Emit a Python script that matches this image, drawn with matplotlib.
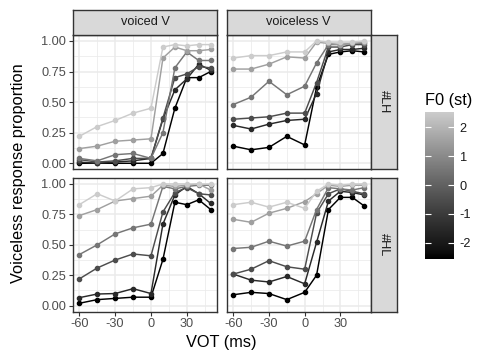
import numpy as np
import matplotlib
matplotlib.use('Agg')
import matplotlib.pyplot as plt
from matplotlib.colors import ListedColormap, Normalize

plt.rcParams['font.family'] = ['Liberation Sans', 'DejaVu Sans']

vot = [-60, -45, -30, -15, 0, 10, 20, 30, 40, 50]
f0_levels = [-2.56, -1.54, -0.52, 0.5, 1.51, 2.52]
col_labels = ['voiced V', 'voiceless V']
row_labels = ['#LH', '#HL']

# one row per F0 level (ascending F0)
voiced_lh = [
    [0.00, 0.00, 0.00, 0.00, 0.00, 0.08, 0.45, 0.70, 0.70, 0.75],
    [0.01, 0.00, 0.01, 0.02, 0.04, 0.36, 0.60, 0.69, 0.81, 0.76],
    [0.03, 0.01, 0.02, 0.04, 0.04, 0.37, 0.70, 0.73, 0.79, 0.78],
    [0.04, 0.02, 0.07, 0.08, 0.04, 0.25, 0.78, 0.91, 0.84, 0.84],
    [0.12, 0.14, 0.18, 0.19, 0.20, 0.86, 0.95, 0.92, 0.92, 0.93],
    [0.22, 0.30, 0.35, 0.41, 0.45, 0.95, 0.97, 0.96, 0.97, 0.97],
]
voiceless_lh = [
    [0.14, 0.11, 0.13, 0.22, 0.15, 0.62, 0.89, 0.91, 0.92, 0.91],
    [0.31, 0.28, 0.32, 0.35, 0.36, 0.57, 0.91, 0.93, 0.93, 0.94],
    [0.36, 0.37, 0.38, 0.41, 0.41, 0.66, 0.95, 0.95, 0.97, 0.97],
    [0.48, 0.54, 0.67, 0.56, 0.63, 0.82, 0.97, 0.97, 0.98, 0.98],
    [0.77, 0.77, 0.81, 0.87, 0.86, 0.99, 0.98, 0.97, 0.98, 0.99],
    [0.86, 0.88, 0.88, 0.91, 0.91, 1.00, 0.99, 0.99, 0.99, 1.00],
]
voiced_hl = [
    [0.02, 0.05, 0.06, 0.07, 0.07, 0.38, 0.85, 0.83, 0.87, 0.79],
    [0.066, 0.096, 0.10, 0.14, 0.10, 0.67, 0.91, 0.98, 0.92, 0.84],
    [0.22, 0.31, 0.375, 0.425, 0.41, 0.77, 0.93, 0.97, 0.92, 0.91],
    [0.42, 0.50, 0.59, 0.64, 0.67, 0.98, 0.96, 0.98, 0.99, 0.99],
    [0.74, 0.79, 0.86, 0.88, 0.90, 0.99, 0.98, 0.99, 1.00, 0.95],
    [0.83, 0.92, 0.86, 0.96, 0.97, 1.00, 1.00, 1.00, 1.00, 1.00],
]
voiceless_hl = [
    [0.09, 0.11, 0.10, 0.05, 0.11, 0.25, 0.79, 0.89, 0.89, 0.82],
    [0.26, 0.21, 0.195, 0.24, 0.18, 0.52, 0.86, 0.94, 0.93, 0.91],
    [0.26, 0.30, 0.37, 0.32, 0.30, 0.76, 0.92, 0.96, 0.94, 0.92],
    [0.47, 0.48, 0.53, 0.49, 0.53, 0.79, 0.97, 0.96, 0.95, 0.97],
    [0.71, 0.685, 0.76, 0.80, 0.855, 0.92, 0.99, 0.98, 0.99, 0.99],
    [0.83, 0.85, 0.81, 0.85, 0.80, 0.94, 1.00, 0.99, 1.00, 1.00],
]
panels = [[voiced_lh, voiceless_lh], [voiced_hl, voiceless_hl]]


def grey_lab_cmap(high=0.8, n=256):
    # black -> grey interpolated in L*, like ggplot's gradient
    def to_lin(c):
        return c / 12.92 if c <= 0.04045 else ((c + 0.055) / 1.055) ** 2.4

    def to_srgb(c):
        return 12.92 * c if c <= 0.0031308 else 1.055 * c ** (1 / 2.4) - 0.055

    d = 6 / 29
    y_hi = to_lin(high)
    f = y_hi ** (1 / 3) if y_hi > d ** 3 else y_hi / (3 * d * d) + 4 / 29
    l_hi = 116 * f - 16
    cols = []
    for t in np.linspace(0, 1, n):
        fy = (t * l_hi + 16) / 116
        y = fy ** 3 if fy > d else 3 * d * d * (fy - 4 / 29)
        g = to_srgb(y)
        cols.append((g, g, g))
    return ListedColormap(cols)


cmap = grey_lab_cmap(0.8)
norm = Normalize(vmin=-2.56, vmax=2.52)

W, H = 478, 356
fig = plt.figure(figsize=(W / 100, H / 100), dpi=100)


def fx(px):
    return px / W


def fy(py):
    return 1 - py / H


col_x = [(72.7, 217.3), (226.7, 370.7)]
row_y = [(34.8, 169.4), (177.9, 311.8)]
grid_c = '#EBEBEB'
border_c = '#333333'

for r in range(2):
    for c in range(2):
        x0, x1 = col_x[c]
        y0, y1 = row_y[r]
        ax = fig.add_axes([fx(x0), fy(y1), fx(x1 - x0), (y1 - y0) / H])
        ax.set_xlim(-65.5, 55.5)
        ax.set_ylim(-0.05, 1.05)
        ax.set_xticks([-60, -30, 0, 30])
        ax.set_xticks([-45, -15, 15, 45], minor=True)
        ax.set_yticks([0, 0.25, 0.5, 0.75, 1.0])
        ax.set_yticks([0.125, 0.375, 0.625, 0.875], minor=True)
        ax.grid(which='major', color=grid_c, lw=1.1)
        ax.grid(which='minor', color=grid_c, lw=0.55)
        ax.set_axisbelow(True)
        for s in ax.spines.values():
            s.set_color(border_c)
            s.set_linewidth(1.0)
        ax.tick_params(which='minor', length=0)
        ax.tick_params(which='major', length=2.8, width=0.8, color=border_c,
                       labelsize=9.2, labelcolor='#4D4D4D', pad=2)
        if c == 0:
            ax.set_yticklabels(['0.00', '0.25', '0.50', '0.75', '1.00'])
        else:
            ax.tick_params(axis='y', which='major', left=False, labelleft=False)
        if r == 1:
            ax.set_xticklabels(['-60', '-30', '0', '30'])
        else:
            ax.tick_params(axis='x', which='major', bottom=False, labelbottom=False)

        for f0, vals in zip(f0_levels, panels[r][c]):
            col = cmap(norm(f0))
            ax.plot(vot, vals, color=col, lw=1.05, marker='o', ms=3.0,
                    mec=col, mfc=col, solid_joinstyle='round')

# top strips
for c in range(2):
    x0, x1 = col_x[c]
    sax = fig.add_axes([fx(x0), fy(34.8), fx(x1 - x0), 24.8 / H])
    sax.set_facecolor('#D9D9D9')
    sax.set_xticks([])
    sax.set_yticks([])
    for s in sax.spines.values():
        s.set_color(border_c)
        s.set_linewidth(1.0)
    sax.text(0.5, 0.5, col_labels[c], ha='center', va='center',
             fontsize=9.2, color='#1A1A1A', transform=sax.transAxes)

# right strips
for r in range(2):
    y0, y1 = row_y[r]
    sax = fig.add_axes([fx(370.7), fy(y1), fx(26.3), (y1 - y0) / H])
    sax.set_facecolor('#D9D9D9')
    sax.set_xticks([])
    sax.set_yticks([])
    for s in sax.spines.values():
        s.set_color(border_c)
        s.set_linewidth(1.0)
    sax.text(0.5, 0.5, row_labels[r], ha='center', va='center', rotation=-90,
             fontsize=9.2, color='#1A1A1A', transform=sax.transAxes)

fig.text(fx(221.7), fy(343), 'VOT (ms)', ha='center', va='center', fontsize=11.8)
fig.text(fx(19), fy(173.3), 'Voiceless response proportion', ha='center',
         va='center', rotation=90, fontsize=11.8)

# colour bar legend
cax = fig.add_axes([fx(425), fy(259), fx(29), 146.7 / H])
grad = np.linspace(norm.vmin, norm.vmax, 300).reshape(-1, 1)
cax.imshow(grad, cmap=cmap, norm=norm, aspect='auto', origin='lower',
           extent=[0, 1, norm.vmin, norm.vmax])
cax.set_xlim(0, 1)
cax.set_ylim(norm.vmin, norm.vmax)
for s in cax.spines.values():
    s.set_visible(False)
cbar_ticks = [-2, -1, 0, 1, 2]
cax.hlines(cbar_ticks, 0, 0.2, color='white', lw=0.8)
cax.hlines(cbar_ticks, 0.8, 1, color='white', lw=0.8)
cax.set_xticks([])
cax.yaxis.tick_right()
cax.set_yticks(cbar_ticks)
cax.set_yticklabels(['-2', '-1', '0', '1', '2'])
cax.tick_params(axis='y', length=0, pad=4, labelsize=9.2, labelcolor='#1A1A1A')
fig.text(fx(425), fy(100), 'F0 (st)', ha='left', va='center', fontsize=11.8)

fig.savefig('out.png', dpi=100)
